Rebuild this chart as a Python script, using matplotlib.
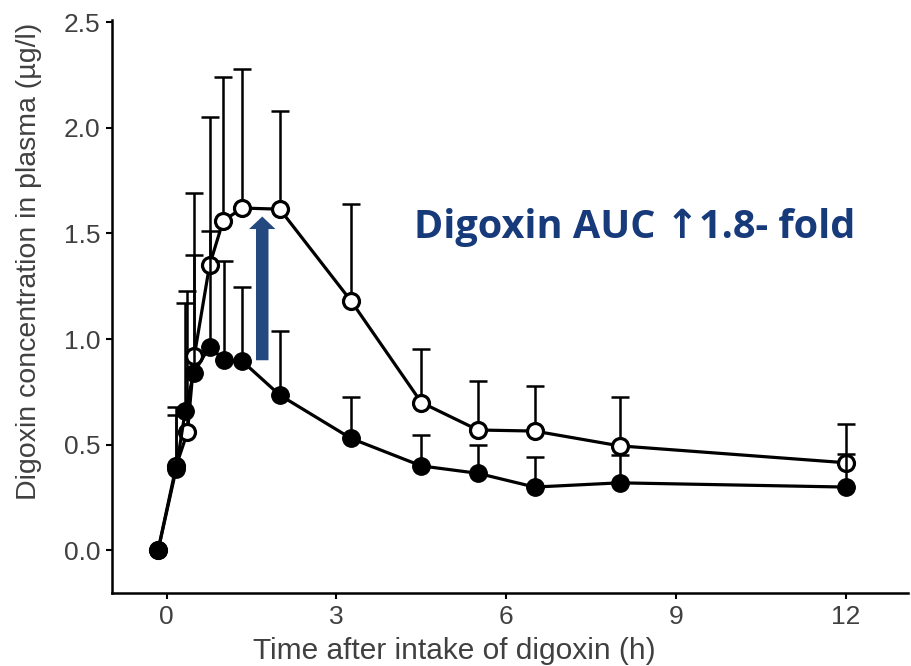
import matplotlib.pyplot as plt
import numpy as np

# time (h) and concentration (ug/l)
t_ctrl = [-0.15, 0.17, 0.33, 0.48, 0.76, 1.02, 1.34, 2.0, 3.26, 4.5, 5.5, 6.5, 8.0, 12.0]
c_ctrl = [0.0, 0.385, 0.66, 0.84, 0.965, 0.90, 0.895, 0.735, 0.53, 0.40, 0.365, 0.30, 0.32, 0.30]
top_ctrl = [np.nan, 0.64, 1.17, 1.40, 1.51, 1.37, 1.245, 1.04, 0.725, 0.545, 0.50, 0.44, 0.45, 0.455]

t_trt = [-0.15, 0.17, 0.37, 0.49, 0.76, 1.0, 1.34, 2.0, 3.26, 4.5, 5.5, 6.5, 8.0, 12.0]
c_trt = [0.0, 0.40, 0.56, 0.92, 1.35, 1.56, 1.62, 1.615, 1.18, 0.70, 0.57, 0.565, 0.495, 0.415]
top_trt = [np.nan, 0.68, 1.23, 1.69, 2.05, 2.24, 2.28, 2.08, 1.64, 0.955, 0.80, 0.78, 0.725, 0.60]

xticks = [0, 3, 6, 9, 12]
yticks = [0.0, 0.5, 1.0, 1.5, 2.0, 2.5]

plt.rcParams['font.family'] = ['Liberation Sans', 'DejaVu Sans']

fig = plt.figure(figsize=(9.12, 6.66), dpi=100)
ax = fig.add_axes([0.123, 0.110, 0.873, 0.860])

def upper_err(c, top):
    c = np.array(c)
    top = np.array(top)
    err = np.nan_to_num(top - c)
    return [np.zeros_like(c), err]

# treated series: bars behind its open markers
ax.errorbar(t_trt, c_trt, yerr=upper_err(c_trt, top_trt), fmt='none',
            ecolor='black', elinewidth=1.8, capsize=6.5, capthick=1.8, zorder=2)
ax.plot(t_trt, c_trt, color='black', lw=2.3, marker='o', ms=11.5,
        mfc='white', mec='black', mew=2.3, zorder=3)
# control series on top
ax.errorbar(t_ctrl, c_ctrl, yerr=upper_err(c_ctrl, top_ctrl), fmt='none',
            ecolor='black', elinewidth=1.8, capsize=6.5, capthick=1.8, zorder=4)
ax.plot(t_ctrl, c_ctrl, color='black', lw=2.3, marker='o', ms=12.5,
        mfc='black', mec='black', zorder=5)

# thick blue arrow
ax.annotate('', xy=(1.69, 1.58), xytext=(1.69, 0.90),
            arrowprops=dict(arrowstyle='simple,head_width=1.9,head_length=0.9,tail_width=0.9',
                            color='#23497e', lw=0, shrinkA=0, shrinkB=0),
            zorder=6)

ax.text(0.656, 0.637, 'Digoxin AUC \u21911.8- fold', transform=ax.transAxes,
        fontsize=28.5, fontweight='bold', color='#173a7a', ha='center', va='center',
        family=['Open Sans', 'DejaVu Sans'])

ax.set_xlim(-0.96, 13.1)
ax.set_ylim(-0.2, 2.51)
ax.set_xticks(xticks)
ax.set_xticklabels([str(v) for v in xticks])
ax.set_yticks(yticks)
ax.set_yticklabels(['%.1f' % v for v in yticks])

for s in ['top', 'right']:
    ax.spines[s].set_visible(False)
for s in ['left', 'bottom']:
    ax.spines[s].set_linewidth(1.8)
ax.tick_params(direction='out', length=4.5, width=1.5, labelsize=19,
               labelcolor='#404040', pad=4)

ax.set_xlabel('Time after intake of digoxin (h)', fontsize=21.5, color='#404040')
ax.xaxis.set_label_coords(0.43, -0.077)
ax.set_ylabel('Digoxin concentration in plasma (\u00b5g/l)', fontsize=20.5,
              color='#404040')
ax.yaxis.set_label_coords(-0.088, 0.578)

fig.savefig('out.png', dpi=100)
